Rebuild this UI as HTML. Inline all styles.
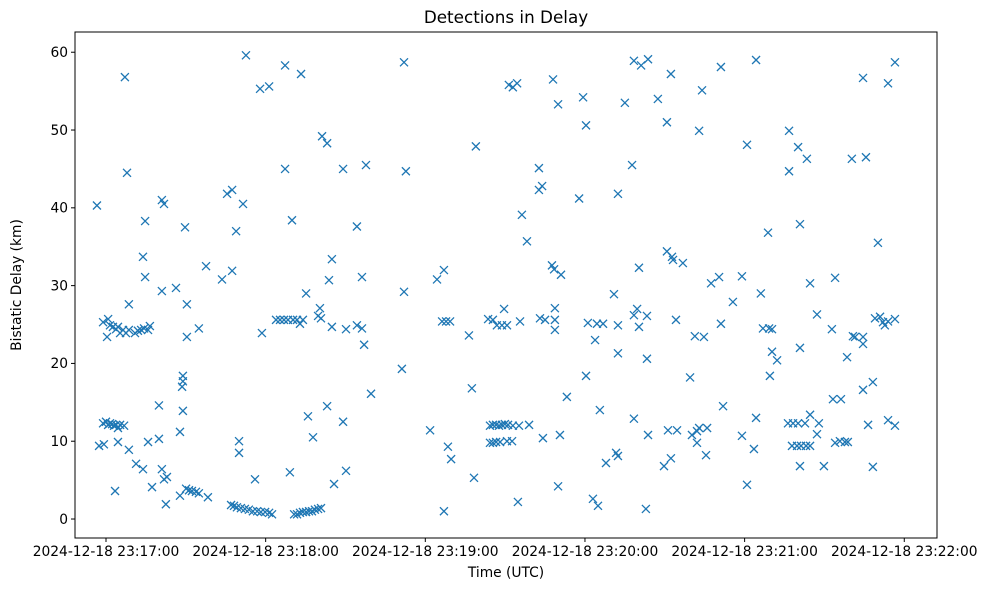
<!DOCTYPE html>
<html><head><meta charset="utf-8"><style>
html,body{margin:0;padding:0;background:#fff;}
svg{display:block;font-family:"DejaVu Sans","Liberation Sans",sans-serif;}
</style></head><body>
<svg id="chart" width="986" height="590" viewBox="0 0 986 590" xmlns="http://www.w3.org/2000/svg"></svg>
<script>
// seconds after 23:17:00
const times = [7.1,7.9,-3.4,21.0,21.8,14.7,29.7,52.6,67.3,57.9,61.3,67.3,45.5,47.4,51.5,48.9,69.9,13.9,14.7,37.6,43.6,47.4,21.0,26.3,8.6,30.4,58.6,34.9,30.4,63.9,65.4,66.9,68.4,70.3,28.9,28.9,28.6,19.9,28.9,27.8,
-1.1,0,0.8,1.5,2.3,3.0,3.8,4.5,5.3,6.8,-2.6,-0.8,4.5,8.6,15.8,19.9,11.3,13.9,21.0,21.8,22.9,3.4,17.3,22.5,27.8,30.1,31.2,32.3,33.8,34.9,38.3,50.0,50.0,56.0,69.1,
47.0,48.1,49.2,50.7,52.2,53.7,55.2,56.8,58.2,59.8,61.3,62.4,70.7,
-1.1,0.8,0.4,1.5,2.6,3.8,4.5,5.3,6.4,7.5,8.6,10.9,12.0,13.2,14.3,15.8,16.5,
73.3,112.0,81.2,83.1,89.1,97.7,112.7,139.0,94.3,84.9,83.8,96.2,75.2,112.0,124.4,127.0,80.4,79.7,80.8,71.8,72.9,74.0,84.9,90.2,94.3,96.2,97.0,111.2,99.6,83.1,75.9,89.1,77.8,121.8,128.5,129.7,138.3,127.0,85.7,90.2,
71.8,72.9,74.0,75.2,76.3,77.4,78.5,79.7,80.8,126.3,127.8,129.3,136.4,137.5,143.6,145.4,146.9,148.8,150.7,149.6,
144.3,145.4,146.6,147.7,148.8,149.9,151.1,144.3,145.4,146.6,148.1,150.7,151.4,
152.9,154.5,168.0,169.9,179.3,180.4,198.4,201.1,203.7,195.0,207.4,212.3,210.8,224.0,222.9,231.1,162.7,162.7,163.9,177.8,192.4,197.7,156.3,158.2,210.8,212.7,213.1,216.8,167.6,168.4,171.0,200.3,227.4,230.4,190.9,
155.6,163.1,165.0,168.7,168.7,168.7,181.1,184.5,186.8,192.4,198.4,199.6,203.3,200.3,214.2,231.1,183.8,221.3,224.7,192.4,203.3,180.4,219.5,173.2,185.6,198.4,231.9,152.9,155.2,159.0,152.6,164.2,170.6,203.7,211.2,214.6,220.2,222.1,222.9,225.9,222.1,225.5,187.9,191.7,192.4,209.7,212.3,169.9,154.8,183.0,184.9,202.9,
244.3,296.5,284.5,293.9,256.7,240.9,260.1,263.4,280.3,285.6,256.7,260.8,248.8,290.1,239.0,264.6,274.0,246.1,235.6,267.2,272.8,289.0,290.9,292.0,292.7,293.9,296.5,280.7,281.5,284.5,284.5,278.5,246.9,249.2,250.3,260.8,250.3,252.2,249.5,288.2,284.5,273.2,276.2,244.3,264.6,256.3,258.2,260.1,262.7,267.9,267.2,286.4,293.9,296.5,239.0,243.5,257.8,259.7,261.2,263.1,264.6,274.0,275.8,277.7,278.8,260.8,269.8,288.2,240.9];
// bistatic delay in km
const delays = [56.8,44.5,40.3,41.0,40.5,38.3,37.5,59.6,58.3,55.3,55.6,45.0,41.8,42.3,40.5,37.0,38.4,33.7,31.1,32.5,30.8,31.9,29.3,29.7,27.6,27.6,23.9,24.5,23.4,25.6,25.6,25.6,25.6,25.6,18.4,17.7,17.0,14.6,13.9,11.2,
12.3,12.5,12.1,12.3,12.2,12.0,12.1,11.7,12.1,12.0,9.4,9.6,9.9,8.9,9.9,10.3,7.1,6.4,6.4,5.1,5.4,3.6,4.1,1.9,3.0,3.9,3.7,3.6,3.5,3.3,2.8,10.0,8.5,5.1,6.0,
1.8,1.7,1.5,1.4,1.3,1.2,1.0,1.0,0.9,0.9,0.8,0.6,0.6,
25.3,25.7,23.4,24.9,24.7,24.4,24.7,23.9,24.3,23.9,24.3,23.9,24.2,24.3,24.5,24.3,24.8,
57.2,58.7,49.2,48.3,45.0,45.5,44.7,47.9,37.6,33.4,30.7,31.1,29.0,29.2,30.8,32.0,27.1,26.1,25.8,25.6,25.1,25.6,24.7,24.4,24.9,24.5,22.4,19.3,16.1,14.5,13.2,12.5,10.5,11.4,9.3,7.7,5.3,1.0,4.5,6.2,
0.6,0.8,0.9,0.9,1.0,1.0,1.2,1.3,1.4,25.4,25.4,25.4,23.6,16.8,25.7,25.6,24.9,24.9,24.9,27.0,
12.0,12.1,12.1,12.0,12.1,12.2,12.1,9.8,9.8,9.9,9.9,10.0,55.8,
55.5,56.0,56.5,53.3,54.2,50.6,58.9,58.3,59.1,53.5,54.0,57.2,51.0,55.1,49.9,58.1,45.1,42.3,42.8,41.2,41.8,45.5,39.1,35.7,34.4,33.7,33.3,32.9,32.6,32.1,31.4,32.3,30.3,31.1,28.9,
25.4,25.8,25.6,25.6,27.1,24.3,25.2,25.1,25.1,24.9,26.2,27.0,26.1,24.7,25.6,25.1,23.0,23.5,23.4,21.3,20.6,18.4,18.2,15.7,14.0,12.9,14.5,12.0,12.0,12.1,10.0,10.4,10.8,10.8,11.4,11.4,10.8,11.3,11.7,11.7,9.8,8.2,7.2,8.5,8.1,6.8,7.8,4.2,2.2,2.6,1.7,1.3,
59.0,58.7,56.7,56.0,49.9,48.1,47.8,46.3,46.3,46.5,44.7,37.9,36.8,35.5,31.2,30.3,31.0,29.0,27.9,26.3,24.4,25.8,26.0,25.3,24.9,25.4,25.7,23.5,23.4,23.4,22.5,20.8,24.5,24.5,24.4,22.0,21.5,20.4,18.4,17.6,16.6,15.4,15.4,13.0,13.4,12.3,12.3,12.3,12.3,12.3,10.9,12.1,12.7,12.0,10.7,9.0,9.4,9.4,9.4,9.4,9.4,9.8,10.0,9.9,9.9,6.8,6.8,6.7,4.4];
const xTicks = [0,60,120,180,240,300];
const xTickLabels = ["2024-12-18 23:17:00","2024-12-18 23:18:00","2024-12-18 23:19:00","2024-12-18 23:20:00","2024-12-18 23:21:00","2024-12-18 23:22:00"];
const yTicks = [0,10,20,30,40,50,60];

const svg = document.getElementById('chart');
const NS = 'http://www.w3.org/2000/svg';
const L=75,T=32,R=937,B=538;
const xMin=-11.65,xMax=312.3,yMin=-2.44,yMax=62.6;
const xs = v => L + (v-xMin)/(xMax-xMin)*(R-L);
const ys = v => B - (v-yMin)/(yMax-yMin)*(B-T);
function mk(tag, attrs, text){const e=document.createElementNS(NS,tag);for(const k in attrs)e.setAttribute(k,attrs[k]);if(text!==undefined)e.textContent=text;svg.appendChild(e);return e;}

const title = mk('text',{x:(L+R)/2,y:23,'text-anchor':'middle','font-size':'16.8'},'Detections in Delay');



for(let i=0;i<times.length;i++){
  const cx=xs(times[i]), cy=ys(delays[i]), s=4;
  const p=mk('path',{d:`M${cx-s},${cy-s}L${cx+s},${cy+s}M${cx-s},${cy+s}L${cx+s},${cy-s}`,stroke:'#1f77b4','stroke-width':'1.3',fill:'none'});
  
  
}

const frame = mk('rect',{x:L,y:T,width:R-L,height:B-T,fill:'none',stroke:'#000','stroke-width':'1'});



xTicks.forEach((v,i)=>{
  const x=xs(v);
  const t=mk('line',{x1:x,y1:B,x2:x,y2:B+4,stroke:'#000','stroke-width':'1'});
  
  
  const lb=mk('text',{x:x,y:B+18,'text-anchor':'middle','font-size':'13.8'},xTickLabels[i]);
  
  
});
yTicks.forEach(v=>{
  const y=ys(v);
  const t=mk('line',{x1:L-4,y1:y,x2:L,y2:y,stroke:'#000','stroke-width':'1'});
  
  
  const lb=mk('text',{x:L-7,y:y+4.8,'text-anchor':'end','font-size':'13.8'},String(v));
  
  
});
const xt=mk('text',{x:(L+R)/2,y:577,'text-anchor':'middle','font-size':'13.8'},'Time (UTC)');


const yt=mk('text',{x:21,y:(T+B)/2,'text-anchor':'middle','font-size':'13.8',transform:`rotate(-90 21 ${(T+B)/2})`},'Bistatic Delay (km)');


</script>
</body></html>
